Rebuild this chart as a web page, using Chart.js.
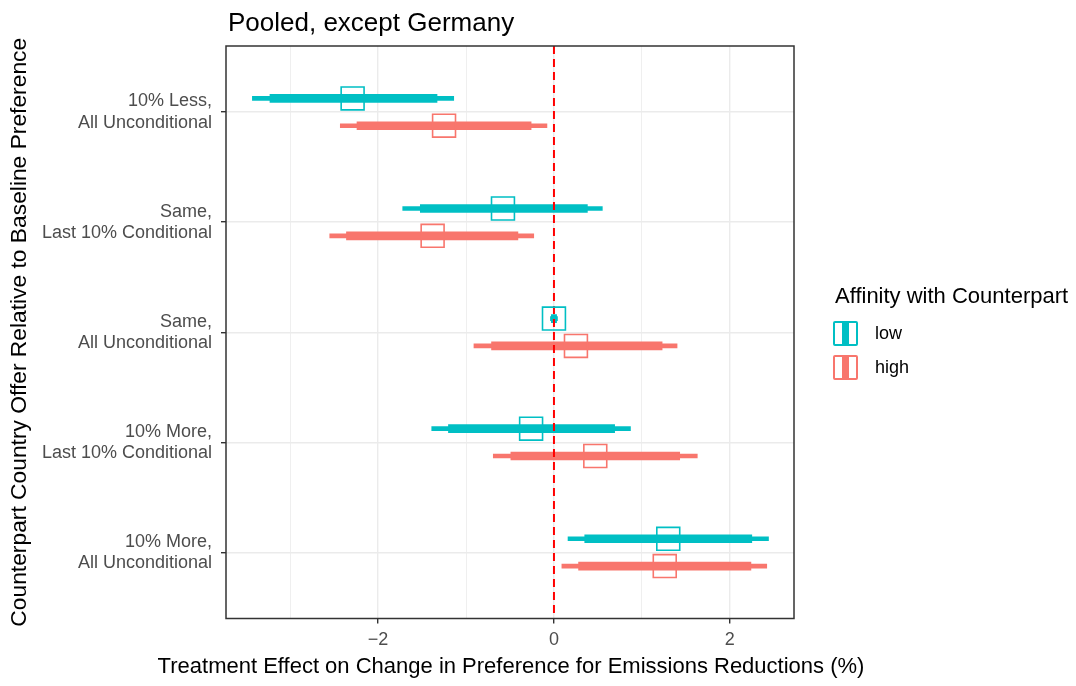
<!DOCTYPE html>
<html>
<head>
<meta charset="utf-8">
<script src="https://cdn.jsdelivr.net/npm/chart.js@4"></script>
<style>
  body { margin: 0; background: #fff; font-family: "Liberation Sans", Arial, sans-serif; }
  #wrap { position: relative; width: 1076px; height: 686px; }
  #title { position: absolute; left: 228px; top: 7px; font-size: 26px; line-height: 30px; color: #000; }
  #xTitle { position: absolute; left: 511px; top: 653px; transform: translateX(-50%); white-space: nowrap; font-size: 22px; line-height: 26px; color: #000; }
  #legend { position: absolute; left: 833px; top: 283px; color: #000; }
  #legend .lt { font-size: 22px; line-height: 26px; height: 26px; margin-bottom: 7px; margin-left: 2px; }
  #legend .item { display: flex; align-items: center; height: 34px; font-size: 18px; }
  #legend .key { position: relative; box-sizing: border-box; width: 25px; height: 25px; border: 2px solid; border-radius: 2px; margin-right: 17px; }
  #legend .key span { position: absolute; left: 7px; top: -2px; width: 7px; height: 25px; }
</style>
</head>
<body>
<div id="wrap">
  <canvas id="coefPlot" width="1076" height="686"></canvas>
  <div id="title">Pooled, except Germany</div>
  <div id="xTitle">Treatment Effect on Change in Preference for Emissions Reductions (%)</div>
  <div id="legend"></div>
</div>
<script>
// offer categories, top to bottom
const categories = [
  ["10% Less,", "All Unconditional"],
  ["Same,", "Last 10% Conditional"],
  ["Same,", "All Unconditional"],
  ["10% More,", "Last 10% Conditional"],
  ["10% More,", "All Unconditional"],
];
const xTicks = [-3, -2, -1, 0, 1, 2];

// affinity: low
const lowEst = [-2.29, -0.58, 0.0, -0.26, 1.30];
const lowCi95Lo = [-3.43, -1.72, -0.04, -1.39, 0.16];
const lowCi95Hi = [-1.14, 0.55, 0.04, 0.87, 2.44];
const lowCi90Lo = [-3.23, -1.52, -0.03, -1.20, 0.35];
const lowCi90Hi = [-1.33, 0.38, 0.03, 0.69, 2.25];

// affinity: high
const highEst = [-1.25, -1.38, 0.25, 0.47, 1.26];
const highCi95Lo = [-2.43, -2.55, -0.91, -0.69, 0.09];
const highCi95Hi = [-0.08, -0.23, 1.40, 1.63, 2.42];
const highCi90Lo = [-2.24, -2.36, -0.71, -0.49, 0.28];
const highCi90Hi = [-0.26, -0.41, 1.23, 1.43, 2.24];

const groups = ["low", "high"];
const TEAL = "#00BFC4";
const SALMON = "#F8766D";
const DODGE = 0.124;

const intervals = (lo, hi, off) => lo.map((v, i) => ({ x: [v, hi[i]], y: i + 1 + off }));
const points = (est, off) => est.map((v, i) => ({ x: v, y: i + 1 + off }));

const barDefaults = {
  type: "bar",
  indexAxis: "y",
  grouped: false,
  borderWidth: 0,
  borderSkipped: false,
  order: 2,
};

const panelBorder = {
  id: "panelBorder",
  afterDraw(chart) {
    const { ctx, chartArea: a } = chart;
    ctx.save();
    ctx.strokeStyle = "#333333";
    ctx.lineWidth = 1.5;
    ctx.strokeRect(a.left, a.top, a.right - a.left, a.bottom - a.top);
    ctx.restore();
  },
};

const ctx = document.getElementById("coefPlot").getContext("2d");
new Chart(ctx, {
  data: {
    datasets: [
      { ...barDefaults, label: "low 95", data: intervals(lowCi95Lo, lowCi95Hi, -DODGE), backgroundColor: TEAL, barThickness: 4, maxBarThickness: 4 },
      { ...barDefaults, label: "low 90", data: intervals(lowCi90Lo, lowCi90Hi, -DODGE), backgroundColor: TEAL, barThickness: 8, maxBarThickness: 8 },
      { ...barDefaults, label: "high 95", data: intervals(highCi95Lo, highCi95Hi, DODGE), backgroundColor: SALMON, barThickness: 4, maxBarThickness: 4 },
      { ...barDefaults, label: "high 90", data: intervals(highCi90Lo, highCi90Hi, DODGE), backgroundColor: SALMON, barThickness: 8, maxBarThickness: 8 },
      {
        type: "line",
        label: "zero",
        data: [{ x: 0, y: 0.4 }, { x: 0, y: 5.6 }],
        borderColor: "#FF0000",
        borderWidth: 2,
        borderDash: [8, 5],
        pointRadius: 0,
        order: 1,
      },
      {
        type: "scatter",
        label: "low",
        data: points(lowEst, -DODGE),
        pointStyle: "rect",
        pointRadius: 16.2,
        pointBorderWidth: 1.6,
        pointBorderColor: TEAL,
        pointBackgroundColor: "rgba(0,0,0,0)",
        order: 0,
      },
      {
        type: "scatter",
        label: "high",
        data: points(highEst, DODGE),
        pointStyle: "rect",
        pointRadius: 16.2,
        pointBorderWidth: 1.6,
        pointBorderColor: SALMON,
        pointBackgroundColor: "rgba(0,0,0,0)",
        order: 0,
      },
    ],
  },
  options: {
    responsive: false,
    animation: false,
    layout: { padding: { top: 46, right: 282, left: 0, bottom: 0 } },
    plugins: {
      legend: { display: false },
      tooltip: { enabled: false },
    },
    scales: {
      x: {
        type: "linear",
        offset: false,
        min: -3.73,
        max: 2.73,
        afterBuildTicks: (scale) => { scale.ticks = xTicks.map((v) => ({ value: v })); },
        afterFit: (scale) => { scale.height = 67.5; },
        border: { display: false },
        grid: {
          offset: false,
          color: "#EBEBEB",
          lineWidth: (c) => (c.tick && c.tick.value % 2 === 0 ? 1.4 : 0.8),
          tickColor: (c) => (c.tick && c.tick.value % 2 === 0 ? "#333333" : "rgba(0,0,0,0)"),
          tickLength: 5,
          tickWidth: 1.4,
        },
        ticks: {
          padding: 6,
          color: "#4D4D4D",
          font: { family: "Liberation Sans", size: 18 },
          callback: (v) => (v % 2 === 0 ? String(v).replace("-", "\u2212") : ""),
        },
        title: { display: false },
      },
      y: {
        type: "linear",
        offset: false,
        reverse: true,
        min: 0.4,
        max: 5.6,
        afterBuildTicks: (scale) => { scale.ticks = categories.map((c, i) => ({ value: i + 1 })); },
        afterFit: (scale) => { scale.width = 226; },
        border: { display: false },
        grid: {
          offset: false,
          color: "#EBEBEB",
          lineWidth: 1.4,
          tickColor: "#333333",
          tickLength: 5,
          tickWidth: 1.4,
        },
        ticks: {
          padding: 9,
          color: "#4D4D4D",
          font: { family: "Liberation Sans", size: 18, lineHeight: 1.17 },
          callback: (v) => categories[v - 1] || "",
        },
        title: {
          display: true,
          text: "Counterpart Country Offer Relative to Baseline Preference",
          color: "#000",
          font: { family: "Liberation Sans", size: 22.8 },
          padding: { top: 6, bottom: 0 },
        },
      },
    },
  },
  plugins: [panelBorder],
});

// legend
const legendEl = document.getElementById("legend");
legendEl.innerHTML = '<div class="lt">Affinity with Counterpart</div>' +
  groups.map((g, i) => {
    const col = i === 0 ? TEAL : SALMON;
    return `<div class="item"><div class="key" style="border-color:${col}"><span style="background:${col}"></span></div>${g}</div>`;
  }).join("");
</script>
</body>
</html>
